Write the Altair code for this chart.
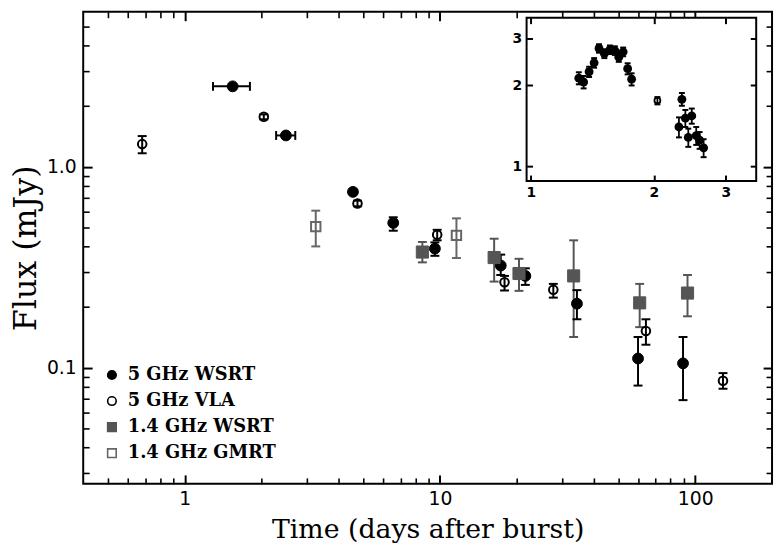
import altair as alt
import pandas as pd

# ---------------- main panel data ----------------
series_names = ["5 GHz WSRT", "5 GHz VLA", "1.4 GHz WSRT", "1.4 GHz GMRT"]

wsrt5_t = [1.54, 2.49, 4.56, 6.56, 9.55, 17.3, 21.6, 34.4, 59.7, 89.6]
wsrt5_f = [2.51, 1.43, 0.749, 0.525, 0.391, 0.322, 0.286, 0.208, 0.111, 0.105]
wsrt5_lo = [2.45, 1.39, 0.73, 0.48, 0.36, 0.289, 0.258, 0.174, 0.0814, 0.0689]
wsrt5_hi = [2.57, 1.47, 0.77, 0.56, 0.42, 0.365, 0.312, 0.243, 0.142, 0.142]

# horizontal (time) error bars of the two early WSRT points
xerr_t = [1.54, 2.49]
xerr_f = [2.51, 1.43]
xerr_lo = [1.29, 2.28]
xerr_hi = [1.80, 2.71]

vla5_t = [0.681, 2.04, 4.75, 9.75, 17.9, 27.8, 64.1, 128.5]
vla5_f = [1.295, 1.77, 0.656, 0.458, 0.266, 0.244, 0.152, 0.0861]
vla5_lo = [1.166, 1.72, 0.635, 0.43, 0.242, 0.223, 0.130, 0.0785]
vla5_hi = [1.42, 1.82, 0.677, 0.485, 0.286, 0.261, 0.174, 0.0939]

wsrt14_t = [8.53, 16.3, 20.4, 33.4, 60.6, 93.3]
wsrt14_f = [0.376, 0.353, 0.294, 0.286, 0.210, 0.235]
wsrt14_lo = [0.334, 0.268, 0.241, 0.142, 0.159, 0.180]
wsrt14_hi = [0.422, 0.438, 0.348, 0.430, 0.261, 0.289]

gmrt_t = [3.26, 11.6]
gmrt_f = [0.503, 0.455]
gmrt_lo = [0.401, 0.351]
gmrt_hi = [0.604, 0.553]

x_domain = [0.4, 200]
y_domain = [0.0264, 5.9]
x_major = [1, 10, 100]
x_minor = [0.5, 0.6, 0.7, 0.8, 0.9, 2, 3, 4, 5, 6, 7, 8, 9,
           20, 30, 40, 50, 60, 70, 80, 90]
y_major = [0.1, 1]
y_minor = [0.03, 0.04, 0.05, 0.06, 0.07, 0.08, 0.09,
           0.2, 0.3, 0.4, 0.5, 0.6, 0.7, 0.8, 0.9, 2, 3, 4, 5]

# ---------------- inset data ----------------
inset_t = [1.31, 1.346, 1.388, 1.428, 1.468, 1.513, 1.561, 1.605, 1.641, 1.682,
           1.725, 1.764, 2.342, 2.303, 2.388, 2.476, 2.428, 2.539, 2.588, 2.647]
inset_f = [2.13, 2.06, 2.25, 2.43, 2.75, 2.63, 2.72, 2.70, 2.55, 2.67,
           2.31, 2.11, 1.775, 1.40, 1.51, 1.54, 1.28, 1.30, 1.25, 1.17]
inset_lo = [2.02, 1.95, 2.15, 2.33, 2.65, 2.53, 2.62, 2.60, 2.45, 2.57,
            2.20, 2.00, 1.68, 1.28, 1.40, 1.44, 1.18, 1.20, 1.16, 1.08]
inset_hi = [2.24, 2.17, 2.35, 2.53, 2.85, 2.73, 2.82, 2.80, 2.65, 2.77,
            2.42, 2.22, 1.875, 1.52, 1.62, 1.64, 1.38, 1.40, 1.34, 1.26]
inset_vla_t = [2.04]
inset_vla_f = [1.757]
inset_vla_lo = [1.70]
inset_vla_hi = [1.81]

inset_x_domain = [0.976, 3.56]
inset_y_domain = [0.88, 3.58]
inset_ticks = [1, 2, 3]

# ---------------- tables ----------------
def table(name, t, f, lo, hi):
    return pd.DataFrame({"series": name, "t": t, "f": f, "lo": lo, "hi": hi})

df = pd.concat([
    table(series_names[0], wsrt5_t, wsrt5_f, wsrt5_lo, wsrt5_hi),
    table(series_names[1], vla5_t, vla5_f, vla5_lo, vla5_hi),
    table(series_names[2], wsrt14_t, wsrt14_f, wsrt14_lo, wsrt14_hi),
    table(series_names[3], gmrt_t, gmrt_f, gmrt_lo, gmrt_hi),
], ignore_index=True)

xerr_df = pd.DataFrame({"series": series_names[0], "t": xerr_t, "f": xerr_f,
                        "tlo": xerr_lo, "thi": xerr_hi})

inset_df = pd.DataFrame({"t": inset_t, "f": inset_f, "lo": inset_lo, "hi": inset_hi})
inset_vla_df = pd.DataFrame({"t": inset_vla_t, "f": inset_vla_f,
                             "lo": inset_vla_lo, "hi": inset_vla_hi})
frame_df = pd.DataFrame({"x1": [inset_x_domain[0]], "x2": [inset_x_domain[1]],
                         "y1": [inset_y_domain[0]], "y2": [inset_y_domain[1]]})
legend_df = pd.DataFrame({"series": series_names})

W, H = 696, 477
SERIF = "DejaVu Serif"
TICKFONT = "DejaVu Sans"

# ---------------- scales ----------------
xs = alt.Scale(type="log", domain=x_domain, nice=False)
ys = alt.Scale(type="log", domain=y_domain, nice=False)

shape_scale = alt.Scale(domain=series_names, range=["circle", "circle", "square", "square"])
fill_scale = alt.Scale(domain=series_names, range=["black", "transparent", "#555555", "transparent"])
stroke_scale = alt.Scale(domain=series_names, range=["black", "black", "#555555", "#666666"])
err_scale = alt.Scale(domain=series_names, range=["black", "black", "#555555", "#666666"])
point_sizes = [120, 75, 150, 90]
point_strokes = [1, 2, 1, 2]

def mx(field):
    return alt.X(field, type="quantitative", scale=xs, axis=None)

def my(field):
    return alt.Y(field, type="quantitative", scale=ys, axis=None)

def series_style():
    return dict(
        shape=alt.Shape("series:N", scale=shape_scale, legend=None),
        fill=alt.Fill("series:N", scale=fill_scale, legend=None),
        stroke=alt.Stroke("series:N", scale=stroke_scale, legend=None),
    )

err_color = alt.Color("series:N", scale=err_scale, legend=None)

base = alt.Chart(df)

yerr = base.mark_rule(strokeWidth=2, opacity=1).encode(
    x=mx("t"), y=my("lo"), y2="hi:Q", color=err_color)
ycap_lo = base.mark_tick(orient="horizontal", size=9, thickness=2, opacity=1).encode(
    x=mx("t"), y=my("lo"), color=err_color)
ycap_hi = base.mark_tick(orient="horizontal", size=9, thickness=2, opacity=1).encode(
    x=mx("t"), y=my("hi"), color=err_color)

xb = alt.Chart(xerr_df)
xerr = xb.mark_rule(strokeWidth=2, opacity=1).encode(
    x=mx("tlo"), x2="thi:Q", y=my("f"), color=err_color)
xcap_lo = xb.mark_tick(orient="vertical", size=9, thickness=2, opacity=1).encode(
    x=mx("tlo"), y=my("f"), color=err_color)
xcap_hi = xb.mark_tick(orient="vertical", size=9, thickness=2, opacity=1).encode(
    x=mx("thi"), y=my("f"), color=err_color)

point_layers = []
for name, sz, sw in zip(series_names, point_sizes, point_strokes):
    point_layers.append(
        base.transform_filter(alt.datum.series == name)
        .mark_point(opacity=1, size=sz, strokeWidth=sw)
        .encode(x=mx("t"), y=my("f"), **series_style())
    )

# ---------------- main axes (inward ticks on all four sides) ----------------
MAJ, MIN = 9, 6
x_bot_major = alt.Axis(orient="bottom", values=x_major, tickSize=MAJ, offset=-MAJ,
                       tickWidth=2, labelFont=TICKFONT, labelFontSize=19,
                       labelPadding=6, labelFlush=False,
                       labelExpr="format(datum.value, 'd')",
                       title="Time (days after burst)", titleFont=SERIF,
                       titleFontSize=27, titleFontWeight="normal",
                       titleBaseline="alphabetic", titleY=63)
x_bot_minor = alt.Axis(orient="bottom", values=x_minor, tickSize=MIN, offset=-MIN,
                       tickWidth=1.6, labels=False, title=None)
x_top_major = alt.Axis(orient="top", values=x_major, tickSize=MAJ, offset=-MAJ,
                       tickWidth=2, labels=False, title=None)
x_top_minor = alt.Axis(orient="top", values=x_minor, tickSize=MIN, offset=-MIN,
                       tickWidth=1.6, labels=False, title=None)

y_left_major = alt.Axis(orient="left", values=y_major, tickSize=MAJ, offset=-MAJ,
                        tickWidth=2, labelFont=TICKFONT, labelFontSize=19,
                        labelPadding=7, labelFlush=False,
                        labelExpr="format(datum.value, '.1f')",
                        title="Flux (mJy)", titleFont=SERIF, titleFontSize=32,
                        titleFontWeight="normal", titleBaseline="middle",
                        titleX=-67)
y_left_minor = alt.Axis(orient="left", values=y_minor, tickSize=MIN, offset=-MIN,
                        tickWidth=1.6, labels=False, title=None)
y_right_major = alt.Axis(orient="right", values=y_major, tickSize=MAJ, offset=-MAJ,
                         tickWidth=2, labels=False, title=None)
y_right_minor = alt.Axis(orient="right", values=y_minor, tickSize=MIN, offset=-MIN,
                         tickWidth=1.6, labels=False, title=None)

def axis_layer(ax_x, ax_y):
    return base.mark_point(opacity=0).encode(
        x=alt.X("t:Q", scale=xs, axis=ax_x),
        y=alt.Y("f:Q", scale=ys, axis=ax_y),
    )

main = alt.layer(
    axis_layer(x_bot_major, y_left_major),
    axis_layer(x_bot_minor, y_left_minor),
    axis_layer(x_top_major, y_right_major),
    axis_layer(x_top_minor, y_right_minor),
    yerr, ycap_lo, ycap_hi, xerr, xcap_lo, xcap_hi, *point_layers,
).resolve_axis(x="independent", y="independent")

# ---------------- legend (lower left, inside the frame) ----------------
leg_y = alt.Y("series:N", axis=None,
              scale=alt.Scale(type="point", domain=series_names, range=[367, 446], padding=0))
leg_symbols = alt.Chart(legend_df).mark_point(opacity=1, size=75, strokeWidth=1.6).encode(
    x=alt.value(29), y=leg_y, **series_style())
leg_labels = alt.Chart(legend_df).mark_text(
    align="left", baseline="middle", font=SERIF, fontSize=18, fontWeight="bold",
    color="black").encode(x=alt.value(45), y=leg_y, text="series:N")
legend = alt.layer(leg_symbols, leg_labels)

# ---------------- inset ----------------
IX0, IX1 = 448, 680      # inset frame, pixels from plot-area left
IY0, IY1 = 171, 6        # inset frame, pixels from plot-area top (bottom, top)
ixs = alt.Scale(type="log", domain=inset_x_domain, range=[IX0, IX1], nice=False)
iys = alt.Scale(type="log", domain=inset_y_domain, range=[IY0, IY1], nice=False)

def ix(field, axis=None):
    return alt.X(field, type="quantitative", scale=ixs, axis=axis)

def iy(field, axis=None):
    return alt.Y(field, type="quantitative", scale=iys, axis=axis)

IT = 6
INFONT = dict(labelFont=TICKFONT, labelFontSize=14, labelFontWeight="bold",
              labelFlush=False)
ix_bot = alt.Axis(orient="bottom", values=inset_ticks, tickSize=IT,
                  offset=-(H - IY0) - IT, tickWidth=2, labelPadding=5,
                  labelExpr="format(datum.value, 'd')", title=None, zindex=1, **INFONT)
ix_top = alt.Axis(orient="top", values=inset_ticks, tickSize=IT,
                  offset=-(IY1 + IT), tickWidth=2, labels=False, title=None, zindex=1)
iy_left = alt.Axis(orient="left", values=inset_ticks, tickSize=IT,
                   offset=-(IX0 + IT), tickWidth=2, labelPadding=5,
                   labelExpr="format(datum.value, 'd')", title=None, zindex=1, **INFONT)
iy_right = alt.Axis(orient="right", values=inset_ticks, tickSize=IT,
                    offset=IX1 - IT - W, tickWidth=2, labels=False, title=None, zindex=1)

frame = alt.Chart(frame_df).mark_rect(fill="white", stroke="black", strokeWidth=2).encode(
    x=ix("x1:Q"), x2="x2:Q", y=iy("y1:Q"), y2="y2:Q")

ib = alt.Chart(inset_df)
i_err = ib.mark_rule(strokeWidth=1.8, color="black").encode(
    x=ix("t:Q"), y=iy("lo:Q"), y2="hi:Q")
i_cap_lo = ib.mark_tick(orient="horizontal", size=6, thickness=2, color="black", opacity=1).encode(
    x=ix("t:Q"), y=iy("lo:Q"))
i_cap_hi = ib.mark_tick(orient="horizontal", size=6, thickness=2, color="black", opacity=1).encode(
    x=ix("t:Q"), y=iy("hi:Q"))
i_pts = ib.mark_point(shape="circle", filled=True, color="black", size=80, opacity=1).encode(
    x=ix("t:Q"), y=iy("f:Q"))

vb = alt.Chart(inset_vla_df)
v_err = vb.mark_rule(strokeWidth=1.8, color="black").encode(
    x=ix("t:Q"), y=iy("lo:Q"), y2="hi:Q")
v_cap_lo = vb.mark_tick(orient="horizontal", size=6, thickness=2, color="black", opacity=1).encode(
    x=ix("t:Q"), y=iy("lo:Q"))
v_cap_hi = vb.mark_tick(orient="horizontal", size=6, thickness=2, color="black", opacity=1).encode(
    x=ix("t:Q"), y=iy("hi:Q"))
v_pts = vb.mark_point(shape="circle", filled=False, color="black", size=36,
                      strokeWidth=1.8, opacity=1).encode(x=ix("t:Q"), y=iy("f:Q"))

inset_ax1 = ib.mark_point(opacity=0).encode(x=ix("t:Q", ix_bot), y=iy("f:Q", iy_left))
inset_ax2 = ib.mark_point(opacity=0).encode(x=ix("t:Q", ix_top), y=iy("f:Q", iy_right))

inset = alt.layer(
    frame, inset_ax1, inset_ax2,
    i_err, i_cap_lo, i_cap_hi, i_pts,
    v_err, v_cap_lo, v_cap_hi, v_pts,
).resolve_axis(x="independent", y="independent")

chart = alt.layer(main, inset, legend).resolve_scale(
    x="independent", y="independent"
).properties(
    width=W, height=H,
    autosize=alt.AutoSizeParams(type="none"),
    padding={"left": 76, "top": 1, "right": 3, "bottom": 60},
    background="white",
).configure_view(
    stroke="black", strokeWidth=2
).configure_axis(
    grid=False, domain=False, tickColor="black", labelColor="black", titleColor="black"
)

chart.save("out.html", embed_options={"renderer": "svg", "actions": False})
